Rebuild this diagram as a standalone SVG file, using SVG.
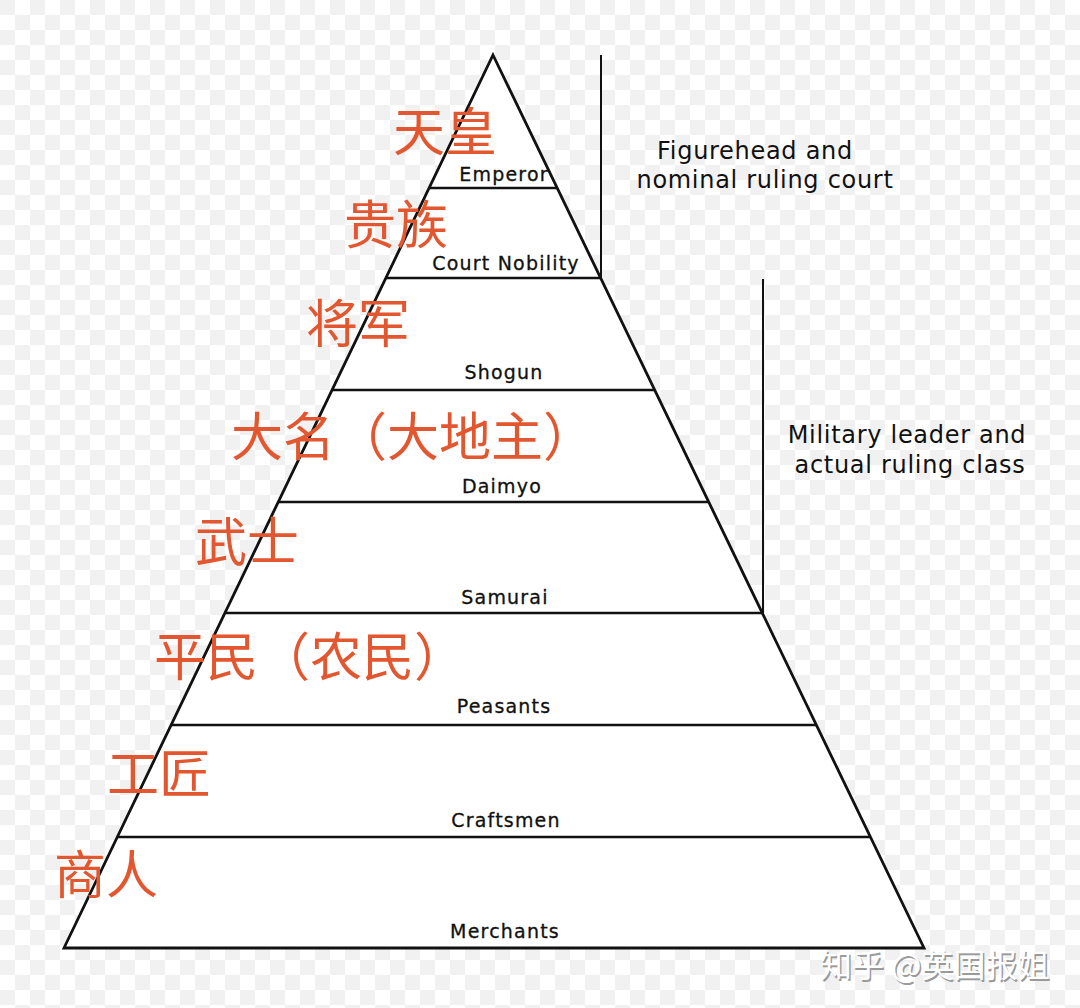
<svg xmlns="http://www.w3.org/2000/svg" width="1080" height="1008" viewBox="0 0 1080 1008">
<defs>
<pattern id="chk" width="30" height="30" patternUnits="userSpaceOnUse">
<rect width="30" height="30" fill="#ffffff"/>
<rect width="15" height="15" fill="#f1f1f1"/>
<rect x="15" y="15" width="15" height="15" fill="#f1f1f1"/>
</pattern>
<style>
.lbl{font-family:"DejaVu Sans",sans-serif;font-size:19px;letter-spacing:1.2px;fill:#111;stroke:#111;stroke-width:0.3;text-anchor:middle}
.side{font-family:"DejaVu Sans",sans-serif;font-size:24px;letter-spacing:0.7px;fill:#111;text-anchor:middle}
.zh{font-family:"Noto Sans CJK SC",sans-serif;font-size:52px;fill:#e2572f}
.ln{stroke:#111;stroke-width:2.6;fill:none}
.wm{font-family:"Noto Sans CJK SC",sans-serif;font-size:32px}
</style>
</defs>
<rect width="1080" height="1008" fill="url(#chk)"/>
<g id="pyramid">
<polygon points="493,55 924,948 64,948" fill="#ffffff" stroke="#111" stroke-width="2.8" stroke-linejoin="miter"/>
</g>
<g id="connectors">
<line class="ln" x1="429" y1="188" x2="557" y2="188"/>
<line class="ln" x1="386" y1="278" x2="601" y2="278"/>
<line class="ln" x1="332" y1="390" x2="655" y2="390"/>
<line class="ln" x1="278" y1="502" x2="709" y2="502"/>
<line class="ln" x1="225" y1="613" x2="763" y2="613"/>
<line class="ln" x1="171" y1="725" x2="816" y2="725"/>
<line class="ln" x1="117" y1="837" x2="870" y2="837"/>
<line stroke="#111" stroke-width="2" x1="601" y1="55" x2="601" y2="279"/>
<line stroke="#111" stroke-width="2" x1="763" y1="279" x2="763" y2="614"/>
</g>
<g id="emperor"><text class="zh" x="393" y="151">天皇</text><text class="lbl" x="504" y="181">Emperor</text></g>
<g id="nobility"><text class="zh" x="344" y="244">贵族</text><text class="lbl" x="506" y="270">Court Nobility</text></g>
<g id="shogun"><text class="zh" x="306" y="343">将军</text><text class="lbl" x="504" y="379">Shogun</text></g>
<g id="daimyo"><text class="zh" x="231" y="456">大名（大地主）</text><text class="lbl" x="502" y="493">Daimyo</text></g>
<g id="samurai"><text class="zh" x="195" y="561">武士</text><text class="lbl" x="505" y="604">Samurai</text></g>
<g id="peasants"><text class="zh" x="154" y="676">平民（农民）</text><text class="lbl" x="504" y="713">Peasants</text></g>
<g id="craftsmen"><text class="zh" x="107" y="793">工匠</text><text class="lbl" x="506" y="827">Craftsmen</text></g>
<g id="merchants"><text class="zh" x="54" y="894">商人</text><text class="lbl" x="505" y="938">Merchants</text></g>
<g id="note-court"><text class="side" x="755" y="159">Figurehead and</text><text class="side" x="765" y="188">nominal ruling court</text></g>
<g id="note-military"><text class="side" x="907" y="443">Military leader and</text><text class="side" x="910" y="473">actual ruling class</text></g>
<g id="watermark">
<text class="wm" x="820" y="977" fill="#9a9a9a" transform="translate(1.5,1.5)">知乎 @英国报姐</text>
<text class="wm" x="820" y="977" fill="#ffffff">知乎 @英国报姐</text>
</g>
</svg>
